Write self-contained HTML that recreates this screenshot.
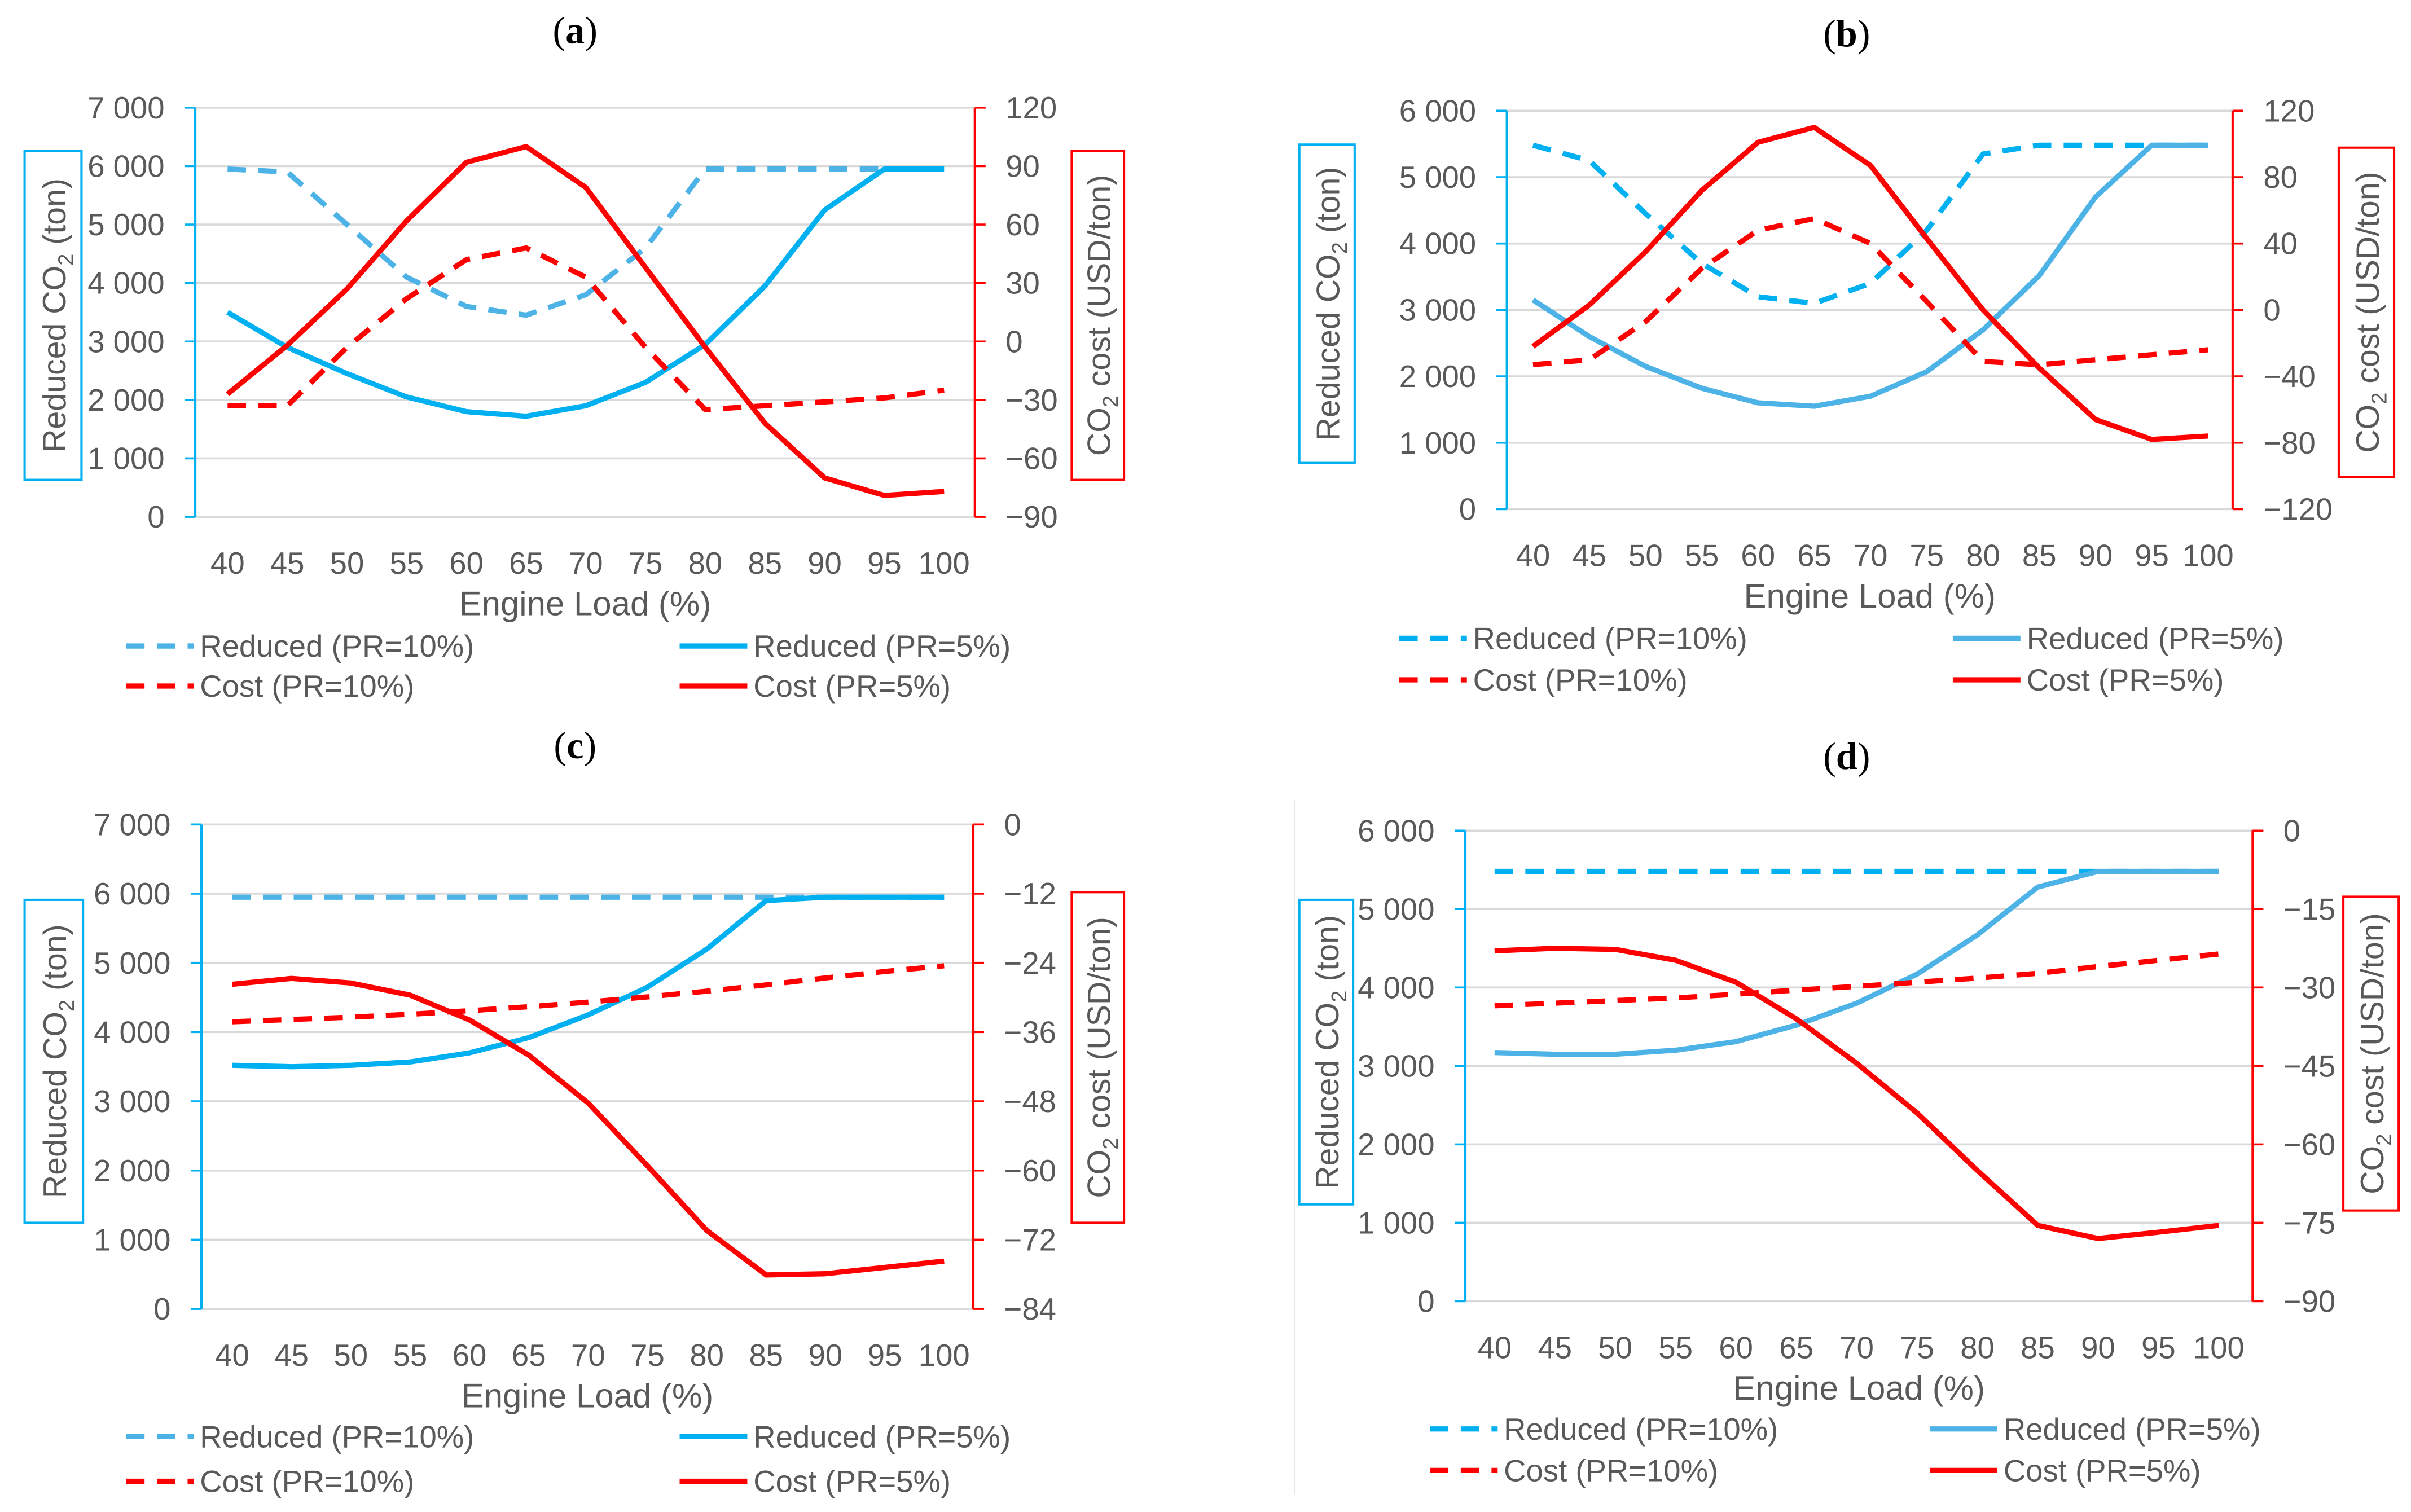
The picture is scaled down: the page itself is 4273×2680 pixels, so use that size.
<!DOCTYPE html>
<html><head><meta charset="utf-8">
<style>
html,body{margin:0;padding:0;background:#fff;}
svg{display:block;}
text{font-family:"Liberation Sans Narrow","Liberation Sans",sans-serif;fill:#595959;}
.ttl{font-family:"Liberation Serif",serif;fill:#000;font-size:25px;}
</style></head>
<body>
<svg id="fig" xmlns="http://www.w3.org/2000/svg" width="4273" height="2680" viewBox="0 0 1568 983" preserveAspectRatio="none">
<line x1="842" y1="520" x2="842" y2="972" stroke="#e6e6e6" stroke-width="1"/>
</svg>
<script>
const categories = [40,45,50,55,60,65,70,75,80,85,90,95,100];
const xTickLabels = ["40","45","50","55","60","65","70","75","80","85","90","95","100"];

const aReduced10 = [5950,5900,5000,4100,3600,3450,3800,4600,5950,5950,5950,5950,5950];
const aReduced5  = [3500,2900,2450,2050,1800,1720,1900,2300,2950,3950,5250,5950,5950];
const aCost10    = [-33,-33,-3,22,42,48,33,-3,-35,-33,-31,-29,-25];
const aCost5     = [-27,-2,27,62,92,100,79,38,-3,-42,-70,-79,-77];
const aLeftTicks = ["0","1 000","2 000","3 000","4 000","5 000","6 000","7 000"];
const aRightTicks = ["−90","−60","−30","0","30","60","90","120"];

const bReduced10 = [5480,5250,4450,3700,3200,3100,3400,4200,5350,5480,5480,5480,5480];
const bReduced5  = [3150,2600,2150,1820,1600,1550,1700,2070,2700,3520,4700,5480,5480];
const bCost10    = [-33,-30,-7,25,48,55,40,5,-31,-33,-30,-27,-24];
const bCost5     = [-22,3,35,72,101,110,87,43,0,-35,-66,-78,-76];
const bLeftTicks = ["0","1 000","2 000","3 000","4 000","5 000","6 000"];
const bRightTicks = ["−120","−80","−40","0","40","80","120"];

const cReduced10 = [5950,5950,5950,5950,5950,5950,5950,5950,5950,5950,5950,5950,5950];
const cReduced5  = [3520,3500,3520,3570,3700,3920,4250,4650,5200,5900,5950,5950,5950];
const cCost10    = [-34.2,-33.8,-33.4,-32.9,-32.3,-31.6,-30.8,-29.9,-28.9,-27.8,-26.6,-25.5,-24.5];
const cCost5     = [-27.7,-26.7,-27.5,-29.6,-33.9,-40,-48.3,-59.2,-70.4,-78.1,-77.9,-76.8,-75.7];
const cLeftTicks = ["0","1 000","2 000","3 000","4 000","5 000","6 000","7 000"];
const cRightTicks = ["−84","−72","−60","−48","−36","−24","−12","0"];

const dReduced10 = [5480,5480,5480,5480,5480,5480,5480,5480,5480,5480,5480,5480,5480];
const dReduced5  = [3170,3150,3150,3200,3310,3520,3800,4170,4670,5280,5480,5480,5480];
const dCost10    = [-33.5,-33,-32.5,-32,-31.3,-30.5,-29.8,-29,-28.2,-27.3,-26,-24.8,-23.6];
const dCost5     = [-23,-22.5,-22.7,-24.8,-29,-36,-44.5,-54,-65,-75.5,-78,-76.8,-75.5];
const dLeftTicks = ["0","1 000","2 000","3 000","4 000","5 000","6 000"];
const dRightTicks = ["−90","−75","−60","−45","−30","−15","0"];

const NS="http://www.w3.org/2000/svg";
const svg=document.getElementById('fig');
function mk(tag,attrs,parent){const e=document.createElementNS(NS,tag);for(const k in attrs)e.setAttribute(k,attrs[k]);(parent||svg).appendChild(e);return e;}

function panel(p){
  const g=mk('g',{});
  
  
  const xS=v=>p.x0+(v-categories[0])/(categories[categories.length-1]-categories[0])*(p.x1-p.x0);
  const yL=v=>p.yb-(v-p.lmin)/(p.lmax-p.lmin)*(p.yb-p.yt);
  const yR=v=>p.yb-(v-p.rmin)/(p.rmax-p.rmin)*(p.yb-p.yt);
  const t=mk('text',{x:p.tx,y:p.ty,'text-anchor':'middle',class:'ttl'},g);
  t.innerHTML='(<tspan font-weight="bold">'+p.id+'</tspan>)';
   
  const n=p.lt.length;
  for(let i=0;i<n;i++){
    const val=p.lmin+i*(p.lmax-p.lmin)/(n-1);const y=yL(val);
    const gl=mk('line',{x1:p.L,x2:p.R,y1:y,y2:y,stroke:'#d9d9d9','stroke-width':1.3},g);
     
    mk('line',{x1:p.L-7,x2:p.L,y1:y,y2:y,stroke:'#00b0f0','stroke-width':1.3},g);
    mk('line',{x1:p.R,x2:p.R+7,y1:y,y2:y,stroke:'#ff0000','stroke-width':1.3},g);
    const lt=mk('text',{x:p.L-20,y:y+7,'text-anchor':'end','font-size':20},g);lt.textContent=p.lt[i];
     
    const rt=mk('text',{x:p.R+20,y:y+7,'text-anchor':'start','font-size':20},g);rt.textContent=p.rt[i];
     
  }
  const la=mk('line',{x1:p.L,x2:p.L,y1:p.yt,y2:p.yb,stroke:'#00b0f0','stroke-width':1.5},g);
   
  const ra=mk('line',{x1:p.R,x2:p.R,y1:p.yt,y2:p.yb,stroke:'#ff0000','stroke-width':1.5},g);
   
  categories.forEach((c,i)=>{const xt=mk('text',{x:xS(c),y:p.yb+37,'text-anchor':'middle','font-size':20},g);xt.textContent=xTickLabels[i];
     });
  const xt=mk('text',{x:(p.L+p.R)/2,y:p.yb+64,'text-anchor':'middle','font-size':22},g);xt.textContent='Engine Load (%)';
   
  const bl=mk('rect',{x:p.bl[0],y:p.bl[1],width:p.bl[2],height:p.bl[3],fill:'none',stroke:'#00b0f0','stroke-width':1.5},g);
   
  const cxl=p.bl[0]+p.bl[2]/2+8, cyl=p.bl[1]+p.bl[3]/2;
  const ytl=mk('text',{x:cxl,y:cyl,'text-anchor':'middle','font-size':21,transform:`rotate(-90 ${cxl} ${cyl})`,style:'font-family:"Liberation Sans",sans-serif'},g);
  ytl.innerHTML='Reduced CO<tspan font-size="14" dy="5">2</tspan><tspan dy="-5"> (ton)</tspan>';
   
  const br=mk('rect',{x:p.br[0],y:p.br[1],width:p.br[2],height:p.br[3],fill:'none',stroke:'#ff0000','stroke-width':1.5},g);
   
  const cxr=p.br[0]+p.br[2]/2+8, cyr=p.br[1]+p.br[3]/2;
  const ytr=mk('text',{x:cxr,y:cyr,'text-anchor':'middle','font-size':21,transform:`rotate(-90 ${cxr} ${cyr})`,style:'font-family:"Liberation Sans",sans-serif'},g);
  ytr.innerHTML='CO<tspan font-size="14" dy="5">2</tspan><tspan dy="-5"> cost (USD/ton)</tspan>';
   
  const series=[
    {d:p.r10,s:yL,c:p.c10,dash:'12 8',n:'series-reduced-pr10'},
    {d:p.r5,s:yL,c:p.c5,dash:'',n:'series-reduced-pr5'},
    {d:p.k10,s:yR,c:'#ff0000',dash:'12 8',n:'series-cost-pr10'},
    {d:p.k5,s:yR,c:'#ff0000',dash:'',n:'series-cost-pr5'}];
  series.forEach(s=>{
    const pts=s.d.map((v,i)=>xS(categories[i]).toFixed(1)+','+s.s(v).toFixed(1)).join(' ');
    const pl=mk('polyline',{points:pts,fill:'none',stroke:s.c,'stroke-width':3.4,'stroke-dasharray':s.dash,'stroke-linejoin':'round'},g);
     
  });
  const leg=[
    {x:p.lgL,y:p.lg1,c:p.c10,dash:'12 8',t:'Reduced (PR=10%)'},
    {x:p.lgR,y:p.lg1,c:p.c5,dash:'',t:'Reduced (PR=5%)'},
    {x:p.lgL,y:p.lg2,c:'#ff0000',dash:'12 8',t:'Cost (PR=10%)'},
    {x:p.lgR,y:p.lg2,c:'#ff0000',dash:'',t:'Cost (PR=5%)'}];
  leg.forEach(l=>{
    const lg=mk('g',{},g);
     
    mk('line',{x1:l.x,x2:l.x+44,y1:l.y,y2:l.y,stroke:l.c,'stroke-width':3.4,'stroke-dasharray':l.dash},lg);
    const tt=mk('text',{x:l.x+48,y:l.y+7,'font-size':20},lg);tt.textContent=l.t;
  });
}
panel({id:'a',L:127,R:634,x0:148,x1:614,yt:70,yb:336,tx:374,ty:28,lmin:0,lmax:7000,rmin:-90,rmax:120,lt:aLeftTicks,rt:aRightTicks,
  r10:aReduced10,r5:aReduced5,k10:aCost10,k5:aCost5,c10:'#4db3e6',c5:'#00b0f0',
  bl:[16,98,37,214],br:[697,98,34,214],lgL:82,lgR:442,lg1:420,lg2:446});
panel({id:'b',L:980,R:1452,x0:997,x1:1436,yt:72,yb:331,tx:1201,ty:30,lmin:0,lmax:6000,rmin:-120,rmax:120,lt:bLeftTicks,rt:bRightTicks,
  r10:bReduced10,r5:bReduced5,k10:bCost10,k5:bCost5,c10:'#00b0f0',c5:'#4db3e6',
  bl:[845,94,36,207],br:[1521,96,36,214],lgL:910,lgR:1270,lg1:415,lg2:442});
panel({id:'c',L:131,R:633,x0:151,x1:614,yt:536,yb:851,tx:374,ty:493,lmin:0,lmax:7000,rmin:-84,rmax:0,lt:cLeftTicks,rt:cRightTicks,
  r10:cReduced10,r5:cReduced5,k10:cCost10,k5:cCost5,c10:'#4db3e6',c5:'#00b0f0',
  bl:[16,585,38,210],br:[697,580,34,215],lgL:82,lgR:442,lg1:934,lg2:963});
panel({id:'d',L:953,R:1465,x0:972,x1:1443,yt:540,yb:846,tx:1201,ty:500,lmin:0,lmax:6000,rmin:-90,rmax:0,lt:dLeftTicks,rt:dRightTicks,
  r10:dReduced10,r5:dReduced5,k10:dCost10,k5:dCost5,c10:'#00b0f0',c5:'#4db3e6',
  bl:[845,585,35,198],br:[1524,583,36,204],lgL:930,lgR:1255,lg1:929,lg2:956});
</script>
</body></html>
